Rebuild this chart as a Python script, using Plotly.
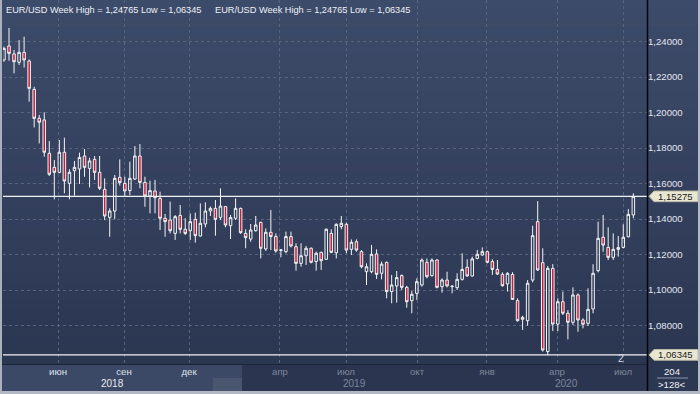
import plotly.graph_objects as go

# ---------------- data (weekly EUR/USD bars) ----------------
opens = [1.2296, 1.2375, 1.2330, 1.2283, 1.2339, 1.2290, 1.2130, 1.1967, 1.1958, 1.1770,
         1.1691, 1.1663, 1.1776, 1.1601, 1.1672, 1.1682, 1.1755, 1.1685, 1.1736, 1.1663,
         1.1567, 1.1409, 1.1445, 1.1635, 1.1601, 1.1560, 1.1625, 1.1755, 1.1606, 1.1530,
         1.1558, 1.1516, 1.1404, 1.1394, 1.1319, 1.1420, 1.1342, 1.1334, 1.1398, 1.1304,
         1.1372, 1.1445, 1.1460, 1.1409, 1.1470, 1.1362, 1.1404, 1.1460, 1.1319, 1.1287,
         1.1334, 1.1381, 1.1231, 1.1325, 1.1301, 1.1223, 1.1216, 1.1301, 1.1244, 1.1150,
         1.1193, 1.1235, 1.1160, 1.1212, 1.1173, 1.1319, 1.1210, 1.1357, 1.1370, 1.1229,
         1.1272, 1.1216, 1.1103, 1.1103, 1.1203, 1.1094, 1.1156, 1.0991, 1.1023, 1.1081,
         1.1015, 1.0940, 1.0981, 1.1028, 1.1156, 1.1081, 1.1169, 1.1019, 1.1056, 1.1019,
         1.1013, 1.1060, 1.1128, 1.1079, 1.1178, 1.1197, 1.1216, 1.1160, 1.1116, 1.1088,
         1.1034, 1.1088, 1.0940, 1.0835, 1.0827, 1.1056, 1.1385, 1.1154, 1.0653, 1.1122,
         1.0808, 1.0934, 1.0869, 1.0818, 1.0972, 1.0831, 1.0812, 1.0893, 1.1109, 1.1297,
         1.1240, 1.1184, 1.1229, 1.1240, 1.1300, 1.1423]
highs = [1.2371, 1.24765, 1.2352, 1.2408, 1.2427, 1.2299, 1.2145, 1.1986, 1.2001, 1.1839,
         1.1732, 1.1845, 1.1858, 1.1680, 1.1727, 1.1774, 1.1794, 1.1745, 1.1755, 1.1755,
         1.1629, 1.1460, 1.1648, 1.1736, 1.1638, 1.1723, 1.1811, 1.1822, 1.1638, 1.1616,
         1.1620, 1.1554, 1.1428, 1.1498, 1.1422, 1.1479, 1.1404, 1.1432, 1.1436, 1.1488,
         1.1494, 1.1470, 1.1507, 1.1573, 1.1473, 1.1423, 1.1516, 1.1464, 1.1342, 1.1372,
         1.1417, 1.1385, 1.1347, 1.1451, 1.1319, 1.1229, 1.1329, 1.1329, 1.1263, 1.1263,
         1.1248, 1.1240, 1.1216, 1.1216, 1.1347, 1.1342, 1.1376, 1.1417, 1.1379, 1.1285,
         1.1285, 1.1225, 1.1150, 1.1254, 1.1229, 1.1160, 1.1160, 1.1085, 1.1107, 1.1088,
         1.1023, 1.0994, 1.1066, 1.1178, 1.1178, 1.1178, 1.1173, 1.1066, 1.1103, 1.1028,
         1.1094, 1.1207, 1.1173, 1.1188, 1.1225, 1.1240, 1.1222, 1.1173, 1.1169, 1.1100,
         1.1100, 1.1100, 1.0953, 1.0855, 1.1056, 1.1362, 1.1501, 1.1235, 1.1135, 1.1146,
         1.0953, 1.0991, 1.0887, 1.1015, 1.0981, 1.0840, 1.1009, 1.1145, 1.1385, 1.1423,
         1.1353, 1.1319, 1.1304, 1.1370, 1.1456, 1.1545]
lows = [1.2286, 1.2292, 1.2221, 1.2268, 1.2253, 1.2061, 1.1916, 1.1826, 1.1751, 1.1642,
        1.1511, 1.1657, 1.1545, 1.1511, 1.1531, 1.1597, 1.1638, 1.1578, 1.1620, 1.1563,
        1.1394, 1.1300, 1.1398, 1.1588, 1.1530, 1.1535, 1.1620, 1.1573, 1.1469, 1.1432,
        1.1432, 1.1338, 1.1300, 1.1319, 1.1282, 1.1319, 1.1310, 1.1282, 1.1267, 1.1301,
        1.1353, 1.1417, 1.1306, 1.1394, 1.1353, 1.1287, 1.1394, 1.1316, 1.1235, 1.1272,
        1.1329, 1.1178, 1.1220, 1.1225, 1.1210, 1.1184, 1.1207, 1.1240, 1.1109, 1.1131,
        1.1141, 1.1150, 1.1109, 1.1113, 1.1169, 1.1207, 1.1178, 1.1342, 1.1207, 1.1197,
        1.1216, 1.1122, 1.1028, 1.1094, 1.1062, 1.1060, 1.0953, 1.0925, 1.0929, 1.1000,
        1.0900, 1.0869, 1.0944, 1.1019, 1.1066, 1.1075, 1.1009, 1.0985, 1.1015, 1.0981,
        1.1000, 1.1053, 1.1075, 1.1075, 1.1173, 1.1193, 1.1150, 1.1085, 1.1085, 1.1019,
        1.0991, 1.0944, 1.0822, 1.0775, 1.0799, 1.1043, 1.1107, 1.0653, 1.06345, 1.0769,
        1.0769, 1.0859, 1.0722, 1.0803, 1.0765, 1.0784, 1.0797, 1.0869, 1.1099, 1.1216,
        1.1169, 1.1169, 1.1188, 1.1235, 1.1297, 1.1404]
closes = [1.2361, 1.2333, 1.2286, 1.2339, 1.2296, 1.2136, 1.1967, 1.1945, 1.1776, 1.1652,
          1.1663, 1.1776, 1.1614, 1.1663, 1.1691, 1.1747, 1.1691, 1.1727, 1.1663, 1.1573,
          1.1417, 1.1445, 1.1629, 1.1605, 1.1558, 1.1629, 1.1755, 1.1606, 1.1530, 1.1560,
          1.1520, 1.1404, 1.1385, 1.1334, 1.1413, 1.1342, 1.1319, 1.1385, 1.1306, 1.1376,
          1.1445, 1.1460, 1.1398, 1.1473, 1.1366, 1.1408, 1.1460, 1.1323, 1.1295, 1.1338,
          1.1366, 1.1235, 1.1325, 1.1301, 1.1220, 1.1226, 1.1301, 1.1248, 1.1150, 1.1193,
          1.1235, 1.1156, 1.1207, 1.1165, 1.1342, 1.1212, 1.1370, 1.1376, 1.1225, 1.1269,
          1.1225, 1.1131, 1.1131, 1.1201, 1.1088, 1.1146, 1.0991, 1.1028, 1.1070, 1.1015,
          1.0934, 1.0976, 1.1047, 1.1169, 1.1075, 1.1169, 1.1015, 1.1056, 1.1023, 1.1021,
          1.1060, 1.1116, 1.1079, 1.1175, 1.1201, 1.1216, 1.1156, 1.1116, 1.1090, 1.1024,
          1.1094, 1.0947, 1.0827, 1.0846, 1.1038, 1.1306, 1.1113, 1.0662, 1.1122, 1.0808,
          1.0934, 1.0869, 1.0818, 1.0972, 1.0831, 1.0807, 1.0891, 1.1094, 1.1291, 1.1253,
          1.1184, 1.1229, 1.1239, 1.1297, 1.1426, 1.15275]
bar_index = list(range(1, len(opens) + 1))

month_ticks = [11.73, 24.84, 37.75, 55.82, 68.93, 83.03, 96.93, 110.84, 123.95]
month_labels = ["июн", "сен", "дек", "апр", "июл", "окт", "янв", "апр", "июл"]
year_ticks = [22.5, 70.7, 112.8]
year_labels = ["2018", "2019", "2020"]
price_ticks = [1.08, 1.10, 1.12, 1.14, 1.16, 1.18, 1.20, 1.22, 1.24]
price_labels = ["1,08000", "1,10000", "1,12000", "1,14000", "1,16000",
                "1,18000", "1,20000", "1,22000", "1,24000"]
last_close = 1.15275
range_high = 1.24765
range_low = 1.06345
bars_total = 204
bars_visible = 128
title_text = "EUR/USD Week High = 1,24765 Low = 1,06345"

# ---------------- geometry helpers (pixels -> paper) ----------------
L, W, H = 3, 644, 364
Y0, Y1 = 1.05831, 1.26338
X0, X1 = 0.807, 128.71


def fx(px):
    return (px - L) / W


def fy(py):
    return (H - py) / H


def vy(v):
    return (v - Y0) / (Y1 - Y0)


FONT = "Liberation Sans, Arial, sans-serif"
FS = 9.6

fig = go.Figure()
fig.add_trace(go.Candlestick(
    x=bar_index, open=opens, high=highs, low=lows, close=closes,
    increasing=dict(line=dict(color="#f4f4f4", width=1), fillcolor="rgba(0,0,0,0)"),
    decreasing=dict(line=dict(color="#f4f4f4", width=1), fillcolor="#c21f3f"),
    whiskerwidth=0, hoverinfo="skip", showlegend=False,
))

shapes = []
# vertical gradient background
N = 40
c_top = (61, 75, 106)
c_bot = (43, 54, 81)
for k in range(N):
    t = (k + 0.5) / N
    col = tuple(round(c_top[j] + (c_bot[j] - c_top[j]) * t) for j in range(3))
    shapes.append(dict(type="rect", xref="paper", yref="paper", layer="below",
                       x0=fx(0), x1=fx(700), y0=fy(H * k / N), y1=fy(H * (k + 1) / N + 0.5),
                       fillcolor="rgb(%d,%d,%d)" % col, line=dict(width=0)))
# bottom axis panel
shapes += [
    dict(type="rect", xref="paper", yref="paper", layer="below", x0=fx(0), x1=fx(242),
         y0=fy(364), y1=fy(392), fillcolor="#3c4966", line=dict(width=0)),
    dict(type="rect", xref="paper", yref="paper", layer="below", x0=fx(242), x1=fx(647),
         y0=fy(364), y1=fy(392), fillcolor="#2b3550", line=dict(width=0)),
    dict(type="rect", xref="paper", yref="paper", layer="below", x0=fx(213), x1=fx(242),
         y0=fy(378), y1=fy(392), fillcolor="#4a5670", line=dict(width=0)),
    dict(type="rect", xref="paper", yref="paper", layer="below", x0=fx(647), x1=fx(700),
         y0=fy(364), y1=fy(392), fillcolor="#2c3752", line=dict(width=0)),
    dict(type="line", xref="paper", yref="paper", x0=fx(0), x1=fx(647),
         y0=fy(364.5), y1=fy(364.5), line=dict(color="#1d2538", width=1)),
    dict(type="line", xref="paper", yref="paper", x0=fx(657), x1=fx(688),
         y0=fy(378), y1=fy(378), line=dict(color="#8a94a8", width=1)),
]
# white price lines
for v in (last_close, range_low):
    shapes.append(dict(type="line", xref="paper", yref="y", x0=0, x1=1, y0=v, y1=v,
                       line=dict(color="#f2f2f2", width=1.3)))
# black axis separator
shapes.append(dict(type="line", xref="paper", yref="paper", x0=fx(647.5), x1=fx(647.5),
                   y0=fy(0), y1=fy(391), line=dict(color="#050608", width=1.5)))
# price tags
for v in (last_close, range_low):
    yc = vy(v)
    hh = 5.3 / H
    path = "M %f,%f L %f,%f L %f,%f L %f,%f L %f,%f Z" % (
        fx(649), yc, fx(654), yc + hh, fx(698), yc + hh, fx(698), yc - hh, fx(654), yc - hh)
    shapes.append(dict(type="path", xref="paper", yref="paper", path=path,
                       fillcolor="#e9e7d1", line=dict(color="#bdbba6", width=1)))
# outer frame
shapes += [
    dict(type="rect", xref="paper", yref="paper", x0=fx(0), x1=fx(2), y0=fy(0), y1=fy(394),
         fillcolor="#aab1be", line=dict(width=0)),
    dict(type="rect", xref="paper", yref="paper", x0=fx(0), x1=fx(700), y0=fy(391), y1=fy(394),
         fillcolor="#b3b9c4", line=dict(width=0)),
    dict(type="rect", xref="paper", yref="paper", x0=fx(698), x1=fx(700), y0=fy(0), y1=fy(394),
         fillcolor="#b3b9c4", line=dict(width=0)),
]

annotations = []
for px in (4, 213):
    annotations.append(dict(xref="paper", yref="paper", x=fx(px), y=fy(9.5), text=title_text,
                            showarrow=False, xanchor="left", yanchor="middle",
                            font=dict(family=FONT, size=9.2, color="#eef1f6")))
for v, lab in ((last_close, "1,15275"), (range_low, "1,06345")):
    annotations.append(dict(xref="paper", yref="paper", x=fx(675.5), y=vy(v), text=lab,
                            showarrow=False, xanchor="center", yanchor="middle",
                            font=dict(family=FONT, size=FS, color="#1c1c1c")))
annotations.append(dict(xref="paper", yref="paper", x=fx(621), y=fy(358), text="2",
                        showarrow=False, xanchor="center", yanchor="middle",
                        font=dict(family=FONT, size=10, color="#d6dce8")))
annotations.append(dict(xref="paper", yref="paper", x=fx(672), y=fy(371.5), text=str(bars_total),
                        showarrow=False, xanchor="center", yanchor="middle",
                        font=dict(family=FONT, size=FS, color="#eef1f6")))
annotations.append(dict(xref="paper", yref="paper", x=fx(672), y=fy(384), text=">%d<" % bars_visible,
                        showarrow=False, xanchor="center", yanchor="middle",
                        font=dict(family=FONT, size=FS, color="#eef1f6")))
for xv, lab, col in zip(year_ticks, year_labels, ["#e8ecf2", "#7d879b", "#7d879b"]):
    annotations.append(dict(xref="x", yref="paper", x=xv, y=fy(383.5), text=lab,
                            showarrow=False, xanchor="center", yanchor="middle",
                            font=dict(family=FONT, size=FS + 0.4, color=col)))

month_text = []
for i, m in enumerate(month_labels):
    col = "#dfe3ea" if i < 3 else "#7d879b"
    month_text.append('<span style="color:%s">%s</span>' % (col, m))

fig.update_layout(
    width=700, height=394,
    margin=dict(l=L, r=700 - L - W, t=0, b=394 - H, pad=0),
    paper_bgcolor="#303c58", plot_bgcolor="rgba(0,0,0,0)",
    font=dict(family=FONT, size=FS, color="#dfe3ea"),
    boxgap=0.5, boxgroupgap=0,
    showlegend=False, hovermode=False,
    shapes=shapes, annotations=annotations,
    xaxis=dict(range=[X0, X1], rangeslider=dict(visible=False), tickmode="array",
               tickvals=month_ticks, ticktext=month_text, showgrid=True,
               gridcolor="#56647f", griddash="3px,3px", gridwidth=1, zeroline=False,
               showline=False, ticks="", tickfont=dict(family=FONT, size=FS),
               fixedrange=True),
    yaxis=dict(range=[Y0, Y1], side="right", tickmode="array", tickvals=price_ticks,
               ticktext=price_labels, showgrid=True, gridcolor="#56647f",
               griddash="3px,3px", gridwidth=1, zeroline=False, showline=False, ticks="",
               tickfont=dict(family=FONT, size=FS, color="#e2e6ee"), fixedrange=True),
)

fig.write_html("out.html", config={"displayModeBar": False},
               post_script="document.body.style.margin='0';")
